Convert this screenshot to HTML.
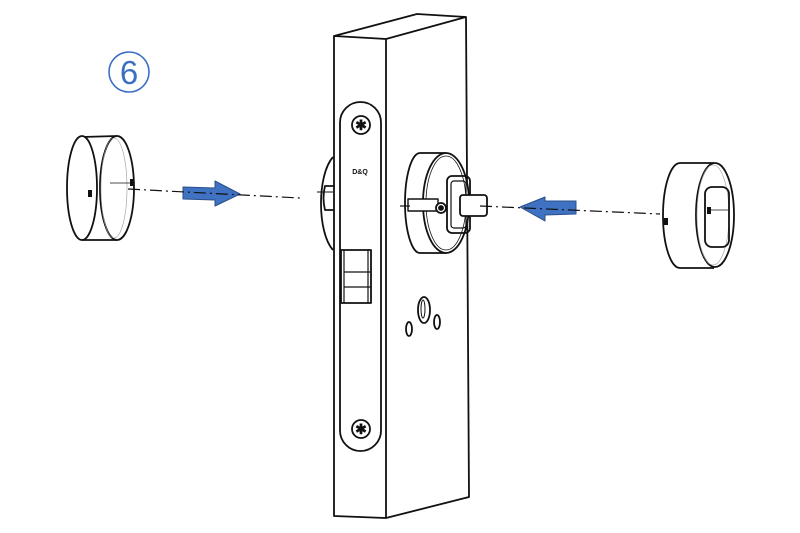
<!DOCTYPE html>
<html><head><style>body{margin:0;background:#fff}svg{display:block}</style></head>
<body>
<svg width="800" height="533" viewBox="0 0 800 533" xmlns="http://www.w3.org/2000/svg" fill="none" stroke="#111" stroke-width="1.8" stroke-linejoin="round">
<rect width="800" height="533" fill="#fff" stroke="none"/>
<!-- number -->
<circle cx="129" cy="72" r="20" stroke="#3b6fc4" stroke-width="1.6"/>
<text x="129" y="84" text-anchor="middle" font-family="Liberation Sans, sans-serif" font-size="33" fill="#3b6fc4" stroke="none">6</text>

<!-- left rosette behind -->
<path d="M333 157 C317 175 317 232 333 250" />
<path d="M325 186 h10 v24 h-10 q-3 -12 0 -24z" fill="#fff"/>
<line x1="317" y1="192" x2="333" y2="192" stroke-width="1"/>

<!-- lock body -->
<path d="M334 36 L417 14 L466 17 L469 497 L386 518 L334 516 Z" fill="#fff"/>
<path d="M386 39 L466 17 M386 39 L386 518 M334 36 L386 39"/>
<!-- faceplate -->
<rect x="340" y="102" width="41" height="349" rx="20.5"/>
<circle cx="361" cy="125" r="9"/>
<text x="361" y="130" text-anchor="middle" font-family="Liberation Sans,sans-serif" font-size="14" font-weight="bold" fill="#111" stroke="none">✱</text>
<circle cx="361" cy="429" r="9"/>
<text x="361" y="434" text-anchor="middle" font-family="Liberation Sans,sans-serif" font-size="14" font-weight="bold" fill="#111" stroke="none">✱</text>
<text x="360" y="174" text-anchor="middle" font-family="Liberation Sans,sans-serif" font-size="7" font-weight="bold" fill="#111" stroke="none">D&amp;Q</text>
<!-- latch -->
<rect x="341" y="250" width="30" height="53" fill="#fff"/>
<path d="M344 250 v53 M344 272 h27 M344 287 h27 M368 250 v53" stroke-width="1.2"/>
<!-- holes -->
<ellipse cx="424" cy="310" rx="6" ry="13"/>
<ellipse cx="423" cy="309" rx="2" ry="9" stroke-width="1"/>
<ellipse cx="409" cy="329" rx="3" ry="7"/>
<ellipse cx="437" cy="322" rx="3" ry="7"/>

<!-- right rosette -->
<path d="M420 153 L446 153 M420 253 L446 253" />
<path d="M420 153 A15 50 0 0 0 420 253" fill="#fff"/>
<ellipse cx="446" cy="203" rx="23" ry="50" fill="#fff"/>
<ellipse cx="446" cy="203" rx="20" ry="47" stroke-width="0.8"/>
<rect x="447" y="176" width="23" height="57" rx="5"/>
<rect x="451" y="181" width="15" height="47" rx="3" stroke-width="1.2"/>
<rect x="408" y="199" width="30" height="12" fill="#fff" stroke-width="1.4"/>
<circle cx="441" cy="208" r="5" fill="#fff"/>
<circle cx="441" cy="208" r="2" fill="#111"/>
<rect x="460" y="195" width="27" height="21" rx="3" fill="#fff"/>

<!-- left cap -->
<path d="M82 137 L117 136 M82 240 L117 240"/>
<ellipse cx="82" cy="188" rx="15" ry="52" fill="#fff"/>
<ellipse cx="117" cy="188" rx="17" ry="52" fill="#fff"/>
<ellipse cx="114" cy="188" rx="13" ry="50" stroke-width="0.6" stroke="#999"/>
<line x1="110" y1="183" x2="131" y2="183" stroke-width="0.8"/>
<rect x="130" y="179" width="4" height="7" fill="#111" stroke="none"/>
<rect x="88" y="190" width="4" height="7" fill="#111" stroke="none"/>

<!-- right cap -->
<path d="M680 163 L714 163 M680 268 L714 268"/>
<path d="M680 163 A17 52.5 0 0 0 680 268"/>
<ellipse cx="715" cy="215" rx="19" ry="52" fill="#fff"/>
<ellipse cx="713" cy="215" rx="16" ry="50" stroke-width="0.6" stroke="#999"/>
<rect x="705" y="187" width="24" height="60" rx="7"/>
<line x1="710" y1="210" x2="728" y2="210" stroke-width="0.8"/>
<rect x="707" y="207" width="4" height="7" fill="#111" stroke="none"/>
<rect x="664" y="218" width="4" height="7" fill="#111" stroke="none"/>

<!-- arrows -->
<path d="M183 187 L215 188 L215 181 L240 194 L215 206 L215 200 L183 199 Z" fill="#3f72c2" stroke="#2a4f8a" stroke-width="1"/>
<path d="M576 201 L545 201 L545 197 L520 207 L545 221 L545 215 L576 214 Z" fill="#3f72c2" stroke="#2a4f8a" stroke-width="1"/>
<!-- dash-dot lines -->
<g stroke-width="1.2" stroke-dasharray="12 4 2 4">
<line x1="128" y1="189" x2="300" y2="198"/>
<line x1="480" y1="206" x2="660" y2="214"/>
<line x1="400" y1="206" x2="410" y2="206"/>
</g>
</svg>
</body></html>
